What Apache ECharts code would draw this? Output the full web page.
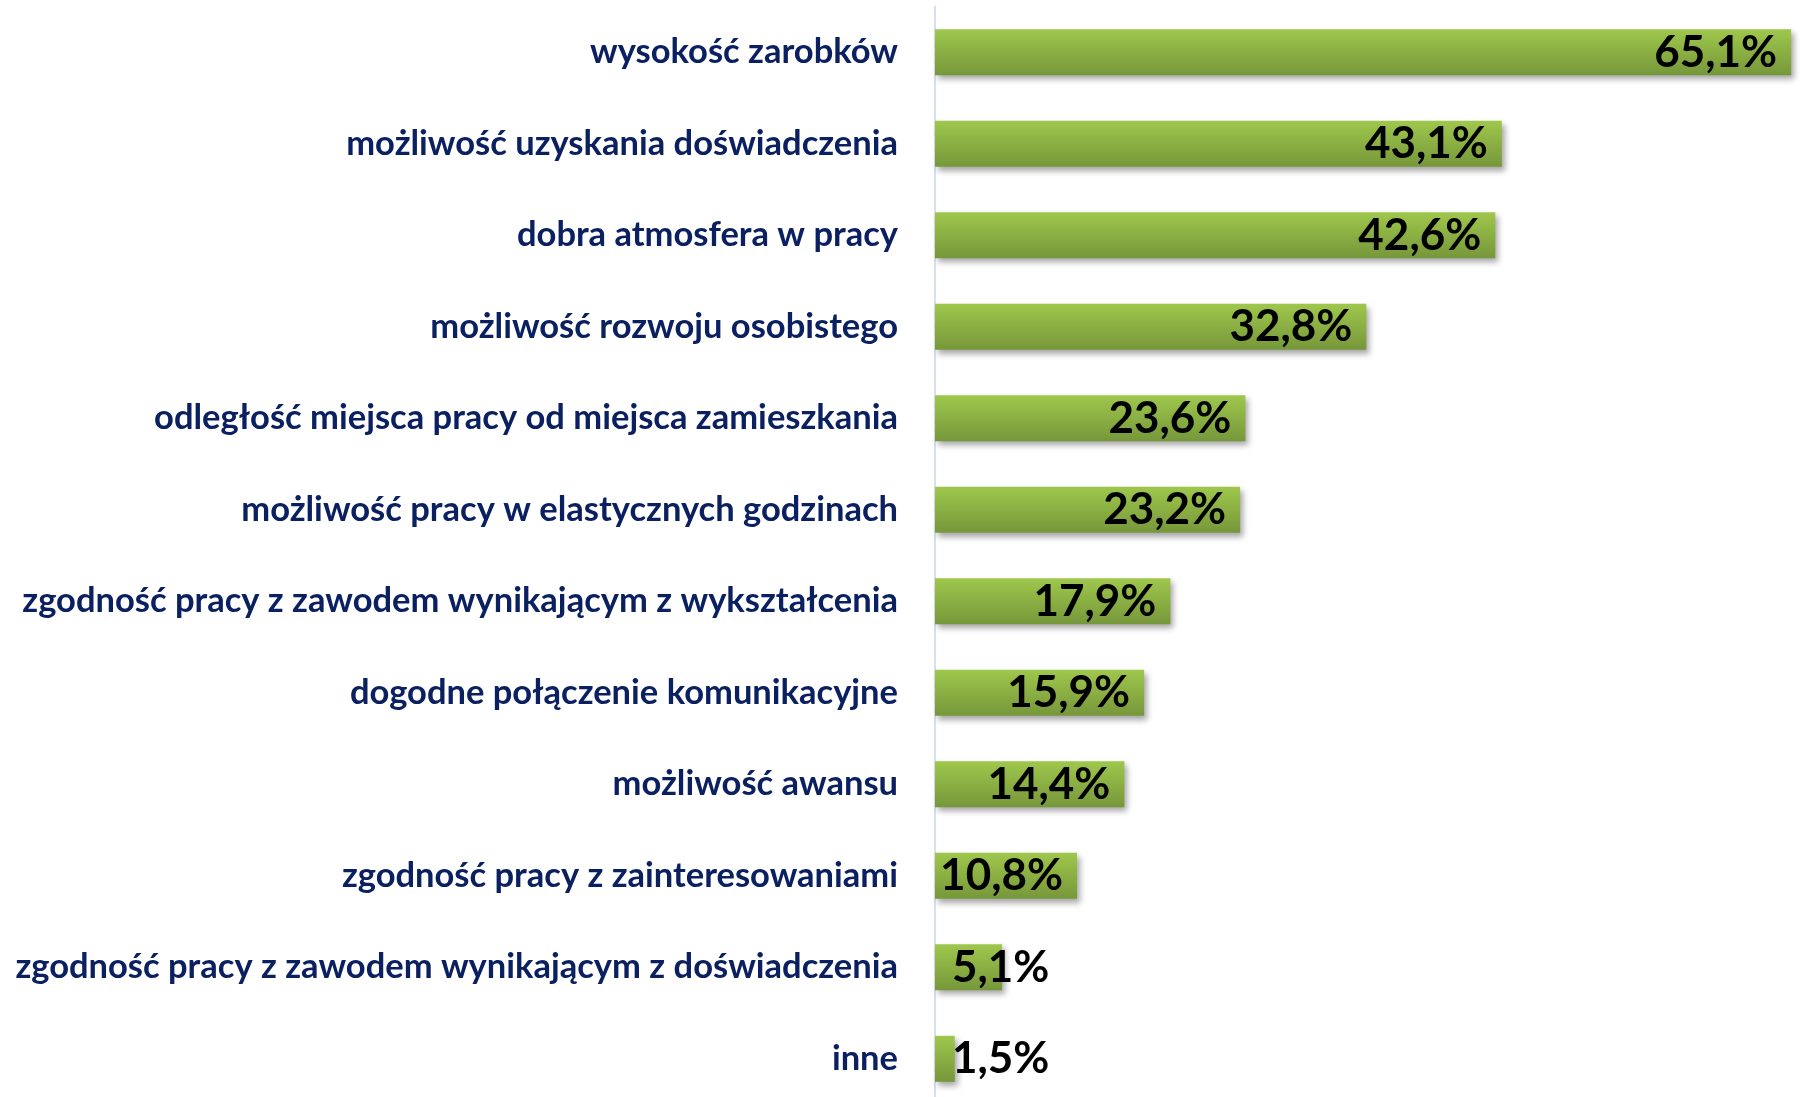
<!DOCTYPE html>
<html>
<head>
<meta charset="utf-8">
<script src="https://cdn.jsdelivr.net/npm/echarts@6/dist/echarts.min.js"></script>
<style>
html,body{margin:0;padding:0;background:#fff;overflow:hidden;}
#chart{width:1803px;height:1115px;}
</style>
</head>
<body>
<div id="chart"></div>
<script>
var categories = [
  "wysokość zarobków",
  "możliwość uzyskania doświadczenia",
  "dobra atmosfera w pracy",
  "możliwość rozwoju osobistego",
  "odległość miejsca pracy od miejsca zamieszkania",
  "możliwość pracy w elastycznych godzinach",
  "zgodność pracy z zawodem wynikającym z wykształcenia",
  "dogodne połączenie komunikacyjne",
  "możliwość awansu",
  "zgodność pracy z zainteresowaniami",
  "zgodność pracy z zawodem wynikającym z doświadczenia",
  "inne"
];
var values = [65.1, 43.1, 42.6, 32.8, 23.6, 23.2, 17.9, 15.9, 14.4, 10.8, 5.1, 1.5];

var chart = echarts.init(document.getElementById('chart'));
var seriesData = values.map(function (v) {
  var item = { value: v };
  if (v < 8) {
    item.label = { position: 'insideLeft', distance: 17 };
  }
  return item;
});

chart.setOption({
  animation: false,
  grid: { left: 935, top: 6.6, width: 873, height: 1098, containLabel: false },
  xAxis: {
    type: 'value', min: 0, max: 66,
    show: false
  },
  yAxis: {
    type: 'category',
    data: categories,
    inverse: true,
    axisTick: { show: false },
    axisLine: { show: true, lineStyle: { color: '#D6E0F0', width: 2 } },
    axisLabel: {
      margin: 37,
      color: '#0A2060',
      fontFamily: 'Lato',
      fontWeight: 'bold',
      fontSize: 34.5
    }
  },
  series: [{
    type: 'bar',
    data: seriesData,
    barWidth: 46,
    itemStyle: {
      color: new echarts.graphic.LinearGradient(0, 0, 0, 1, [
        { offset: 0, color: '#9FC74C' },
        { offset: 1, color: '#76973A' }
      ]),
      shadowColor: 'rgba(0,0,0,0.35)',
      shadowBlur: 6,
      shadowOffsetX: 3,
      shadowOffsetY: 4
    },
    label: {
      show: true,
      position: 'insideRight',
      distance: 14,
      color: '#000',
      fontFamily: 'Lato',
      fontWeight: 'bold',
      fontSize: 44,
      formatter: function (p) {
        return p.value.toFixed(1).replace('.', ',') + '%';
      }
    }
  }]
});
</script>
</body>
</html>
